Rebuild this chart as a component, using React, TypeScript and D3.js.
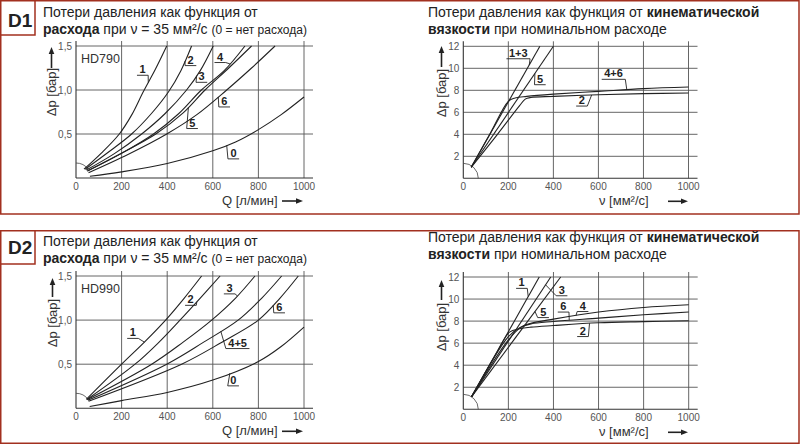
import React from "react";
import * as d3 from "d3";

type Pt = [number, number];

// D1 / HD790 — потери давления от расхода (Q л/мин, Δp бар)
const d1FlowC1: Pt[] = [[35, 0.1], [110, 0.28], [190, 0.5], [245, 0.72], [295, 0.98], [347, 1.23], [398, 1.5]];
const d1FlowC2: Pt[] = [[40, 0.1], [140, 0.29], [244, 0.5], [330, 0.73], [406, 0.98], [460, 1.22], [507, 1.5]];
const d1FlowC3: Pt[] = [[45, 0.09], [170, 0.28], [288, 0.5], [390, 0.73], [485, 1.0], [545, 1.22], [602, 1.5]];
const d1FlowC4: Pt[] = [[50, 0.08], [200, 0.28], [340, 0.5], [450, 0.73], [550, 1.0], [650, 1.22], [741, 1.5]];
const d1FlowC5: Pt[] = [[50, 0.08], [205, 0.29], [350, 0.5], [470, 0.74], [566, 1.0], [670, 1.25], [770, 1.5]];
const d1FlowC6: Pt[] = [[55, 0.06], [230, 0.27], [398, 0.5], [530, 0.72], [661, 1.0], [770, 1.25], [873, 1.5]];
const d1FlowC0: Pt[] = [[61, 0.02], [200, 0.07], [400, 0.165], [600, 0.31], [700, 0.41], [800, 0.55], [900, 0.72], [1000, 0.92]];

// D1 / HD790 — потери давления от вязкости (ν мм²/с, Δp бар)
const d1ViscC13: Pt[] = [[35, 1.0], [340, 12]];
const d1ViscC5: Pt[] = [[35, 1.0], [400, 12]];
const d1ViscC46: Pt[] = [[35, 1.0], [120, 4.1], [200, 7.0], [230, 7.3], [282, 7.45], [400, 7.65], [600, 7.9], [800, 8.15], [1000, 8.3]];
const d1ViscC2: Pt[] = [[35, 1.0], [150, 3.95], [250, 6.6], [275, 7.2], [300, 7.35], [400, 7.45], [600, 7.6], [800, 7.7], [1000, 7.75]];

// D2 / HD990 — от расхода
const d2FlowC1: Pt[] = [[45, 0.1], [200, 0.5], [300, 0.75], [393, 1.0], [475, 1.25], [551, 1.5]];
const d2FlowC2: Pt[] = [[48, 0.1], [259, 0.5], [360, 0.74], [456, 1.0], [545, 1.25], [632, 1.5]];
const d2FlowC3: Pt[] = [[50, 0.1], [332, 0.5], [470, 0.75], [595, 1.0], [700, 1.25], [785, 1.5]];
const d2FlowC45: Pt[] = [[52, 0.09], [398, 0.5], [560, 0.75], [711, 1.0], [815, 1.25], [902, 1.5]];
const d2FlowC6: Pt[] = [[55, 0.08], [463, 0.5], [640, 0.75], [800, 1.0], [895, 1.25], [975, 1.5]];
const d2FlowC0: Pt[] = [[60, 0.02], [200, 0.087], [400, 0.18], [600, 0.32], [800, 0.53], [900, 0.7], [1000, 0.92]];

// D2 / HD990 — от вязкости
const d2ViscC1: Pt[] = [[37, 1.15], [337, 12]];
const d2ViscC3: Pt[] = [[37, 1.15], [388, 12]];
const d2ViscC5: Pt[] = [[37, 1.15], [432, 12]];
const d2ViscC2: Pt[] = [[37, 1.15], [150, 5.2], [205, 7.0], [250, 7.3], [300, 7.45], [400, 7.6], [600, 7.85], [800, 7.95], [1000, 8.03]];
const d2ViscC6: Pt[] = [[37, 1.15], [200, 6.6], [250, 7.4], [300, 7.75], [400, 7.97], [600, 8.27], [800, 8.57], [1000, 8.82]];
const d2ViscC4: Pt[] = [[37, 1.15], [200, 6.3], [260, 7.5], [300, 7.8], [400, 8.18], [600, 8.82], [800, 9.24], [1000, 9.48]];

const xTicks = [0, 200, 400, 600, 800, 1000];
const flowTicks = [0.5, 1.0, 1.5];
const viscTicks = [2, 4, 6, 8, 10, 12];

interface CurveLabel {
  text: string;
  pos: Pt; // центр текста / базовая линия, в единицах данных
  side: "left" | "right";
  curve: Pt[];
  target: number;
}

const d1FlowLabels: CurveLabel[] = [
  { text: "1", pos: [292, 1.19], side: "right", curve: d1FlowC1, target: 317 },
  { text: "2", pos: [503, 1.3], side: "left", curve: d1FlowC2, target: 478 },
  { text: "3", pos: [551, 1.11], side: "left", curve: d1FlowC3, target: 529 },
  { text: "4", pos: [632, 1.335], side: "right", curve: d1FlowC4, target: 675 },
  { text: "5", pos: [510, 0.585], side: "left", curve: d1FlowC5, target: 493 },
  { text: "6", pos: [651, 0.83], side: "left", curve: d1FlowC6, target: 624 },
  { text: "0", pos: [691, 0.24], side: "left", curve: d1FlowC0, target: 661 },
];
const d1ViscLabels: CurveLabel[] = [
  { text: "1+3", pos: [244, 11.05], side: "right", curve: d1ViscC13, target: 293 },
  { text: "5", pos: [341, 8.69], side: "left", curve: d1ViscC5, target: 318 },
  { text: "4+6", pos: [667, 9.18], side: "right", curve: d1ViscC46, target: 726 },
  { text: "2", pos: [526, 6.75], side: "right", curve: d1ViscC2, target: 570 },
];
const d2FlowLabels: CurveLabel[] = [
  { text: "1", pos: [249, 0.815], side: "right", curve: d2FlowC1, target: 300 },
  { text: "2", pos: [503, 1.19], side: "right", curve: d2FlowC2, target: 530 },
  { text: "3", pos: [673, 1.32], side: "right", curve: d2FlowC3, target: 708 },
  { text: "4+5", pos: [709, 0.7], side: "left", curve: d2FlowC45, target: 635 },
  { text: "6", pos: [892, 1.105], side: "left", curve: d2FlowC6, target: 865 },
  { text: "0", pos: [690, 0.277], side: "left", curve: d2FlowC0, target: 675 },
];
const d2ViscLabels: CurveLabel[] = [
  { text: "1", pos: [259, 11.15], side: "right", curve: d2ViscC1, target: 288 },
  { text: "3", pos: [437, 10.48], side: "left", curve: d2ViscC3, target: 365 },
  { text: "5", pos: [355, 8.5], side: "left", curve: d2ViscC5, target: 318 },
  { text: "6", pos: [444, 9.0], side: "right", curve: d2ViscC6, target: 470 },
  { text: "4", pos: [530, 9.05], side: "left", curve: d2ViscC4, target: 500 },
  { text: "2", pos: [530, 6.78], side: "right", curve: d2ViscC2, target: 560 },
];

const FONT = "'Liberation Sans', Arial, Helvetica, sans-serif";
const RED = "#a2301f";
const INK = "#222";

const commaFmt = d3.formatLocale({ decimal: ",", thousands: " ", grouping: [3], currency: ["", ""] }).format(".1f");

function interp(c: Pt[], t: number) {
  for (let i = 1; i < c.length; i++) {
    if (t <= c[i][0]) {
      const [x0, y0] = c[i - 1];
      const [x1, y1] = c[i];
      return y0 + ((y1 - y0) * (t - x0)) / (x1 - x0);
    }
  }
  return c[c.length - 1][1];
}

interface ChartProps {
  left: number;
  right: number;
  bottom: number;
  top: number;
  yMax: number;
  yTicks: number[];
  yFmt: (v: number) => string;
  curves: Pt[][];
  labels: CurveLabel[];
  arcEnd: number;
  model?: string;
  xTitle: React.ReactNode;
  xTitleX: number;
  xArrow: [number, number];
  yTitleX: number;
  yTitleY: number;
  yArrow: [number, number];
}

function Chart(p: ChartProps) {
  const x = d3.scaleLinear().domain([0, 1000]).range([p.left, p.right]);
  const y = d3.scaleLinear().domain([0, p.yMax]).range([p.bottom, p.top]);
  const line = d3
    .line<Pt>()
    .x((d) => x(d[0]))
    .y((d) => y(d[1]))
    .curve(d3.curveCatmullRom.alpha(0.5));

  const gridTop = p.top - 5;
  const gridRight = p.right + 9;

  const arc = d3.path();
  arc.arc(x(0), y(0), 15, -Math.PI / 2, p.arcEnd);

  const xTitleY = p.bottom + 27;
  const arrowY = xTitleY - 4;

  return (
    <g>
      {xTicks.slice(1).map((t) => (
        <line key={"vx" + t} x1={x(t)} x2={x(t)} y1={p.bottom} y2={gridTop} stroke="#555" strokeWidth={0.9} />
      ))}
      {p.yTicks.map((t) => (
        <line key={"hy" + t} x1={p.left} x2={gridRight} y1={y(t)} y2={y(t)} stroke="#555" strokeWidth={0.9} />
      ))}
      <line x1={p.left} x2={p.left} y1={p.bottom} y2={gridTop} stroke="#333" strokeWidth={1.1} />
      <line x1={p.left} x2={gridRight} y1={p.bottom} y2={p.bottom} stroke="#333" strokeWidth={1.1} />

      {xTicks.map((t) => (
        <text key={"tx" + t} x={x(t)} y={p.bottom + 12} textAnchor="middle" fontSize={10} fill="#555" fontFamily={FONT}>
          {t}
        </text>
      ))}
      {p.yTicks.map((t) => (
        <text key={"ty" + t} x={p.left - 4} y={y(t) + 3.5} textAnchor="end" fontSize={10} fill="#555" fontFamily={FONT}>
          {p.yFmt(t)}
        </text>
      ))}

      <path d={arc.toString()} fill="none" stroke="#444" strokeWidth={0.8} />

      {p.curves.map((c, i) => (
        <path key={"c" + i} d={line(c) ?? ""} fill="none" stroke={INK} strokeWidth={1.1} />
      ))}

      {p.labels.map((l, i) => {
        const lx = x(l.pos[0]);
        const ly = y(l.pos[1]);
        const w = l.text.length * 6.2 + 5;
        const uy = ly + 2;
        const ux0 = lx - w / 2;
        const ux1 = lx + w / 2;
        const ex = l.side === "left" ? ux0 : ux1;
        const tx = x(l.target);
        const ty = y(interp(l.curve, l.target));
        return (
          <g key={"l" + i}>
            <text x={lx} y={ly} textAnchor="middle" fontSize={11} fontWeight="bold" fill={INK} fontFamily={FONT}>
              {l.text}
            </text>
            <line x1={ux0} y1={uy} x2={ux1} y2={uy} stroke={INK} strokeWidth={0.9} />
            <line x1={ex} y1={uy} x2={tx} y2={ty} stroke={INK} strokeWidth={0.9} />
          </g>
        );
      })}

      {p.model && (
        <text x={p.left + 5} y={p.top + 17} fontSize={12.5} fill="#333" fontFamily={FONT}>
          {p.model}
        </text>
      )}

      <text x={p.xTitleX} y={xTitleY} fontSize={13} fill="#333" fontFamily={FONT}>
        {p.xTitle}
      </text>
      <line x1={p.xArrow[0]} x2={p.xArrow[1] - 6} y1={arrowY} y2={arrowY} stroke="#222" strokeWidth={1.6} />
      <polygon
        points={`${p.xArrow[1]},${arrowY} ${p.xArrow[1] - 7},${arrowY - 2.8} ${p.xArrow[1] - 7},${arrowY + 2.8}`}
        fill="#222"
      />

      <text
        x={p.yTitleX}
        y={p.yTitleY}
        transform={`rotate(-90, ${p.yTitleX}, ${p.yTitleY})`}
        textAnchor="middle"
        fontSize={13}
        fill="#333"
        fontFamily={FONT}
      >
        Δp [бар]
      </text>
      <line x1={p.yTitleX - 4.5} x2={p.yTitleX - 4.5} y1={p.yArrow[1]} y2={p.yArrow[0] + 6} stroke="#222" strokeWidth={1.6} />
      <polygon
        points={`${p.yTitleX - 4.5},${p.yArrow[0]} ${p.yTitleX - 7.3},${p.yArrow[0] + 7} ${p.yTitleX - 1.7},${p.yArrow[0] + 7}`}
        fill="#222"
      />
    </g>
  );
}

function Titles({ top, right }: { top: number; right?: boolean }) {
  if (right) {
    return (
      <g fontFamily={FONT} fontSize={14} fill={INK}>
        <text x={428} y={top + 17}>
          Потери давления как функция от <tspan fontWeight="bold">кинематической</tspan>
        </text>
        <text x={428} y={top + 34}>
          <tspan fontWeight="bold">вязкости</tspan> при номинальном расходе
        </text>
      </g>
    );
  }
  return (
    <g fontFamily={FONT} fontSize={14} fill={INK}>
      <text x={43} y={top + 17}>Потери давления как функция от</text>
      <text x={43} y={top + 34}>
        <tspan fontWeight="bold">расхода</tspan> при ν = 35 мм²/с <tspan fontSize={12}>(0 = нет расхода)</tspan>
      </text>
    </g>
  );
}

const qTitle = <>Q [л/мин]</>;
const vTitle = <>ν [мм²/с]</>;

export default function App() {
  return (
    <svg
      width={800}
      height={444}
      viewBox="0 0 800 444"
      style={{ position: "absolute", left: 0, top: 0, background: "#fff" }}
    >
      <rect x={0.75} y={0.75} width={798.25} height={213.25} fill="none" stroke={RED} strokeWidth={1.5} />
      <path d="M0.75,35 H35 V0.75" fill="none" stroke={RED} strokeWidth={1.5} />
      <text x={8} y={27} fontFamily={FONT} fontWeight="bold" fontSize={19} fill={INK}>D1</text>

      <rect x={0.75} y={230.75} width={798.25} height={212.5} fill="none" stroke={RED} strokeWidth={1.5} />
      <path d="M0.75,264 H35 V230.75" fill="none" stroke={RED} strokeWidth={1.5} />
      <text x={8} y={254} fontFamily={FONT} fontWeight="bold" fontSize={19} fill={INK}>D2</text>

      <Titles top={0.3} />
      <Titles top={0.3} right />
      <Titles top={228.7} />
      <Titles top={225.3} right />

      <Chart
        left={76}
        right={304}
        bottom={178}
        top={46}
        yMax={1.5}
        yTicks={flowTicks}
        yFmt={commaFmt}
        curves={[d1FlowC1, d1FlowC2, d1FlowC3, d1FlowC4, d1FlowC5, d1FlowC6, d1FlowC0]}
        labels={d1FlowLabels}
        arcEnd={-0.61}
        model="HD790"
        xTitle={qTitle}
        xTitleX={222}
        xArrow={[282, 303]}
        yTitleX={56}
        yTitleY={92}
        yArrow={[47, 68]}
      />
      <Chart
        left={463.3}
        right={688.5}
        bottom={178.3}
        top={46.3}
        yMax={12}
        yTicks={viscTicks}
        yFmt={(v) => String(v)}
        curves={[d1ViscC13, d1ViscC5, d1ViscC46, d1ViscC2]}
        labels={d1ViscLabels}
        arcEnd={0}
        xTitle={vTitle}
        xTitleX={599}
        xArrow={[668, 688]}
        yTitleX={446}
        yTitleY={93}
        yArrow={[46, 67]}
      />
      <Chart
        left={76}
        right={304}
        bottom={408.3}
        top={276}
        yMax={1.5}
        yTicks={flowTicks}
        yFmt={commaFmt}
        curves={[d2FlowC1, d2FlowC2, d2FlowC3, d2FlowC45, d2FlowC6, d2FlowC0]}
        labels={d2FlowLabels}
        arcEnd={-0.61}
        model="HD990"
        xTitle={qTitle}
        xTitleX={222}
        xArrow={[282, 303]}
        yTitleX={57}
        yTitleY={323}
        yArrow={[278, 297]}
      />
      <Chart
        left={463.3}
        right={688.7}
        bottom={409.3}
        top={277}
        yMax={12}
        yTicks={viscTicks}
        yFmt={(v) => String(v)}
        curves={[d2ViscC1, d2ViscC3, d2ViscC5, d2ViscC2, d2ViscC6, d2ViscC4]}
        labels={d2ViscLabels}
        arcEnd={0}
        xTitle={vTitle}
        xTitleX={599}
        xArrow={[668, 688]}
        yTitleX={446}
        yTitleY={327}
        yArrow={[280, 300]}
      />
    </svg>
  );
}
